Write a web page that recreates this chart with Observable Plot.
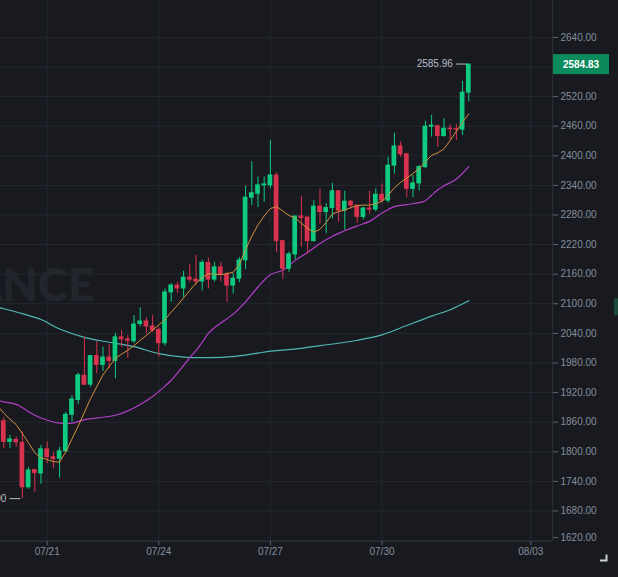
<!DOCTYPE html>
<html><head><meta charset="utf-8">
<script src="https://cdn.jsdelivr.net/npm/d3@7"></script>
<script src="https://cdn.jsdelivr.net/npm/@observablehq/plot@0.6"></script>
<style>
html,body{margin:0;padding:0;background:#181a20;}
#chart{width:618px;height:577px;overflow:hidden;}
</style></head><body><div id="chart"></div>
<script>
// 4h candles; index 0 = 07/21 00:00
const firstIndex = -7;
const opens  = [1862,1820,1824,1818,1728,1763,1756,1805,1789,1786,1801,1875,1905,1954,1936,1994,1976,1991,1984,2032,2028,2024,2059,2064,2054,2047,2020,2123,2137,2131,2153,2149,2145,2183,2149,2174,2159,2137,2151,2188,2315,2323,2340,2340,2360,2227,2171,2200,2277,2275,2227,2297,2286,2294,2328,2289,2307,2299,2276,2293,2291,2321,2309,2380,2419,2403,2333,2344,2377,2459,2460,2440,2455,2454,2453,2528];
const highs  = [1869,1833,1830,1840,1768,1764,1813,1820,1799,1809,1880,1914,1959,2032,1995,2024,2012,2017,2040,2046,2036,2076,2092,2072,2076,2051,2130,2141,2144,2166,2180,2198,2188,2193,2184,2184,2164,2161,2194,2338,2388,2357,2357,2431,2366,2227,2205,2277,2318,2275,2309,2333,2303,2344,2330,2328,2309,2299,2296,2328,2333,2343,2397,2446,2428,2405,2360,2380,2470,2482,2461,2475,2463,2463,2551,2585.96];
const lows   = [1806,1807,1809,1705,1724,1718,1734,1776,1765,1747,1798,1860,1896,1934,1931,1958,1963,1968,1948,2012,1989,2019,2053,2039,2042,1992,2014,2103,2121,2113,2143,2137,2126,2130,2144,2144,2103,2120,2143,2169,2299,2295,2306,2333,2203,2149,2164,2189,2215,2201,2225,2262,2242,2272,2265,2249,2292,2263,2270,2282,2286,2304,2304,2363,2397,2315,2315,2329,2374,2438,2417,2438,2431,2431,2441,2509];
const closes = [1820,1825,1819,1728,1762,1757,1805,1789,1785,1801,1875,1906,1955,1936,1994,1976,1991,1984,2032,2028,2025,2058,2064,2054,2046,2020,2123,2137,2131,2153,2149,2145,2183,2149,2174,2159,2137,2151,2188,2315,2324,2340,2342,2360,2227,2171,2200,2277,2274,2227,2297,2286,2294,2328,2289,2307,2299,2276,2293,2291,2321,2309,2380,2419,2403,2333,2344,2377,2459,2461,2440,2455,2454,2453,2528,2584.83];

// moving averages (candle index, value)
const ma7Idx = [-8,-7,-6,-5,-4,-3,-2,-1,0,1,2,3,4,5,6,7,8,9,10,11,12,13,14,15,16,17,18,19,20,21,22,23,24,25,26,27,28,29,30,31,32,33,34,35,36,37,38,39,40,41,42,43,44,45,46,47,48,49,50,51,52,53,54,55,56,57,58,59,60,61,62,63,64,65,66,67,68];
const ma7Val = [1893,1878,1866,1855,1837,1818,1798,1788,1784,1780,1779,1800,1826,1852,1880,1908,1932,1956,1973,1989,1998,2006,2015,2026,2036,2047,2057,2068,2083,2097,2112,2127,2142,2153,2161,2160,2159,2161,2164,2180,2210,2237,2260,2278,2293,2297,2288,2279,2274,2263,2253,2245,2251,2265,2282,2287,2290,2295,2299,2300,2300,2303,2308,2320,2335,2346,2355,2364,2374,2388,2401,2406,2414,2431,2450,2468,2485];
const ma25Idx = [-8,-7,-5,-2,0,2,4,6,9,11,13,15,17,19,20,22,23,24,25,26,27,28,30,32,34,36,38,40,42,44,46,48,50,52,54,56,58,60,61,62,63,64,66,68];
const ma25Val = [1905,1901,1896,1874,1864,1858,1858,1865,1870,1874,1883,1896,1912,1933,1945,1975,1991,2005,2022,2040,2052,2061,2079,2104,2134,2159,2168,2188,2204,2222,2237,2248,2258,2267,2284,2297,2301,2305,2309,2320,2331,2339,2353,2378];
const ma99Idx = [-8,-7,-4,-1,2,6,10,14,18,22,26,30,34,36,39,44,50,54,58,62,65,68];
const ma99Val = [2093,2090,2080,2068,2049,2032,2022,2013,1999,1992,1991,1993,2000,2004,2007,2015,2026,2037,2056,2075,2088,2106];

const yTicks = [1620,1680,1740,1800,1860,1920,1980,2040,2100,2160,2220,2280,2340,2400,2460,2520,2580,2640];
const xTickIdx = [0,18,36,54,78];
const xTickLabels = ["07/21","07/24","07/27","07/30","08/03"];

const candles = opens.map((o,k)=>({i: firstIndex+k, open:o, high:highs[k], low:lows[k], close:closes[k]}));
const ma7 = ma7Idx.map((i,k)=>({i, v: ma7Val[k]}));
const ma25 = ma25Idx.map((i,k)=>({i, v: ma25Val[k]}));
const ma99 = ma99Idx.map((i,k)=>({i, v: ma99Val[k]}));

const hiC = candles.reduce((a,b)=> b.high > a.high ? b : a);
const loC = candles.reduce((a,b)=> b.low < a.low ? b : a);
const markers = [{i: hiC.i, v: hiC.high, label: hiC.high.toFixed(2)}, {i: loC.i, v: loC.low, label: loC.low.toFixed(2)}];
const last = candles[candles.length-1];

const UP = "#0ecb81", DOWN = "#d8334e";
const col = d => d.close >= d.open ? UP : DOWN;
const labelOf = new Map(xTickIdx.map((t,k)=>[t, xTickLabels[k]]));
const GRID = "#252830";
const AXIS = "#848e9c";
// the 2580 label sits under the live-price tag, 1620 is nudged up at the edge
const yLabelTicks = yTicks.filter(t => t !== 1620 && t !== 2580);

const chart = Plot.plot({
  width: 618, height: 577,
  marginLeft: 0, marginRight: 66, marginTop: 0, marginBottom: 36,
  style: {background: "#181a20", color: AXIS, fontFamily: "'Liberation Sans', Arial, sans-serif", fontSize: "10px", overflow: "visible"},
  x: {type: "linear", domain: [-7.532, 81.5], label: null},
  y: {domain: [1618.1, 2714.8], label: null},
  marks: [
    Plot.gridY(yTicks, {stroke: GRID, strokeOpacity: 1}),
    Plot.gridX(xTickIdx, {stroke: GRID, strokeOpacity: 1}),
    Plot.text(["BINANCE"], {frameAnchor: "top-left", dx: 94, dy: 268, textAnchor: "end", fontSize: 46, fontWeight: 900, fill: "#22252c", fontFamily: "Lato, 'Open Sans', sans-serif"}),
    Plot.line(ma99, {x: "i", y: "v", stroke: "#4fb8b3", strokeWidth: 1.2, curve: "catmull-rom", clip: true}),
    Plot.line(ma25, {x: "i", y: "v", stroke: "#b23fc6", strokeWidth: 1.2, curve: "catmull-rom", clip: true}),
    Plot.ruleX(candles, {x: "i", y1: "low", y2: "high", stroke: col, strokeWidth: 1, clip: true}),
    Plot.rect(candles, {x1: d => d.i - 0.38, x2: d => d.i + 0.38, y1: d => Math.min(d.open, d.close), y2: d => Math.max(d.open, d.close), fill: col, insetTop: -0.5, insetBottom: -0.5, clip: true}),
    Plot.line(ma7, {x: "i", y: "v", stroke: "#d4913c", strokeWidth: 1, clip: true}),
    Plot.ruleY(markers, {x1: d => d.i - 2, x2: d => d.i - 0.25, y: "v", stroke: "#b7bdc6"}),
    Plot.text(markers, {x: "i", y: "v", text: "label", dx: -16, textAnchor: "end", fill: "#b7bdc6", fontSize: 10}),
    Plot.ruleY([1618.1], {stroke: "#2b2f36"}),
    Plot.ruleX([81.5], {stroke: "#2b2f36"}),
    Plot.axisY(yLabelTicks, {anchor: "right", tickSize: 5, tickPadding: 3, tickFormat: d => d.toFixed(2), stroke: "#5e6673", fill: AXIS, fontSize: 10, label: null}),
    Plot.axisY([2580], {anchor: "right", tickSize: 5, tickFormat: () => "", stroke: "#5e6673", label: null}),
    Plot.axisY([1620], {anchor: "right", tickSize: 5, tickPadding: 3, tickFormat: d => d.toFixed(2), stroke: "#5e6673", fill: AXIS, fontSize: 10, dy: -3, label: null}),
    Plot.axisX(xTickIdx, {anchor: "bottom", tickSize: 4, tickPadding: 2, tickFormat: d => labelOf.get(d), stroke: "#5e6673", fill: AXIS, fontSize: 10, label: null})
  ]
});

// current price tag and decorations in the right margin
const svg = d3.select(chart);
const yS = chart.scale("y");
const yl = yS.apply(last.close);
const tag = svg.append("g");
tag.append("rect").attr("x", 553).attr("y", yl - 10).attr("width", 56).attr("height", 20).attr("fill", "#0b8a5c");
tag.append("text").attr("x", 581).attr("y", yl).attr("dy", "0.35em").attr("text-anchor", "middle")
  .attr("fill", "#ffffff").attr("font-weight", "bold").attr("font-size", 10).text(last.close.toFixed(2));
const y99 = yS.apply(ma99Val[ma99Val.length-1]);
svg.append("rect").attr("x", 614).attr("y", y99 - 2).attr("width", 10).attr("height", 17).attr("fill", "#1b4a3b");
svg.append("path").attr("d", "M600,560.5H606.5V554.5").attr("fill", "none").attr("stroke", "#c9ced6").attr("stroke-width", 2);

document.getElementById("chart").append(chart);
</script>
</body></html>
